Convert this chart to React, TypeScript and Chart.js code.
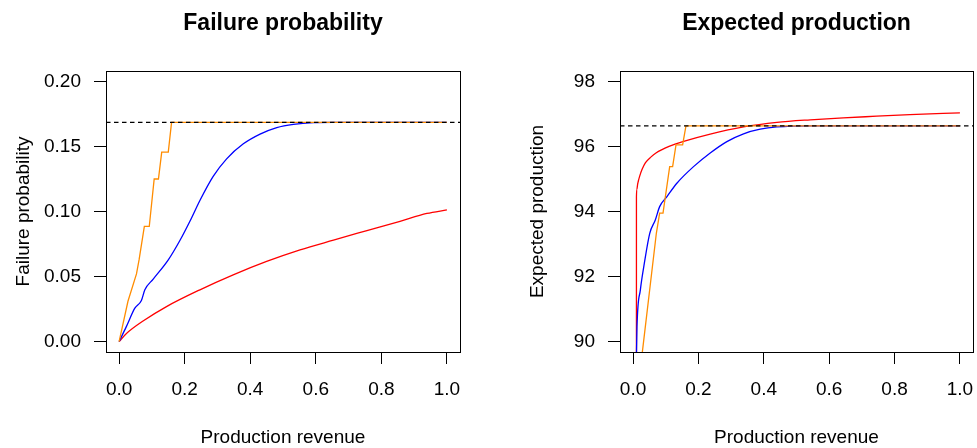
import React, { useEffect, useRef } from "react";
import { Chart, registerables } from "chart.js";

Chart.register(...registerables);

const FONT = '"Liberation Sans", Arial, Helvetica, sans-serif';

// Shared x axis
const xTicks = [0, 0.2, 0.4, 0.6, 0.8, 1.0];
const xLimits = [-0.04, 1.04];

// Panel 1: Failure probability
const failTicks = [0, 0.05, 0.1, 0.15, 0.2];
const failLimits = [-0.008, 0.208];
const failRef = 0.1685;

const failOrangeX = [0, 0.027, 0.053, 0.061, 0.077, 0.092, 0.107, 0.12, 0.13, 0.15, 0.16, 1.0];
const failOrangeY = [0, 0.031, 0.052, 0.063, 0.0885, 0.0885, 0.125, 0.125, 0.1457, 0.1457, 0.1685, 0.1685];

const failBlueX = [0, 0.022, 0.048, 0.068, 0.0785, 0.104, 0.15, 0.185, 0.216, 0.2465, 0.287, 0.328, 0.379, 0.43, 0.481, 0.532, 0.593, 0.65, 1.0];
const failBlueY = [0, 0.0115, 0.0257, 0.0316, 0.0398, 0.048, 0.0628, 0.0775, 0.0925, 0.1085, 0.127, 0.1405, 0.152, 0.1595, 0.1645, 0.167, 0.1683, 0.1685, 0.1685];

const failRedX = [0, 0.0224, 0.073, 0.1446, 0.2465, 0.348, 0.45, 0.552, 0.654, 0.756, 0.857, 0.939, 1.0];
const failRedY = [0, 0.0062, 0.0158, 0.0269, 0.0398, 0.0513, 0.0616, 0.0705, 0.078, 0.0853, 0.0925, 0.0985, 0.1012];

// Panel 2: Expected production
const prodTicks = [90, 92, 94, 96, 98];
const prodLimits = [89.68, 98.32];
const prodRef = 96.635;

const prodOrangeX = [0, 0.0712, 0.0813, 0.0916, 0.112, 0.121, 0.1313, 0.1516, 0.1618, 1.0];
const prodOrangeY = [87.26, 93.33, 93.95, 93.95, 95.38, 95.38, 96.05, 96.05, 96.635, 96.635];

const prodBlueX = [0.0093, 0.012, 0.0223, 0.0345, 0.051, 0.068, 0.0813, 0.1037, 0.134, 0.185, 0.236, 0.287, 0.338, 0.389, 0.44, 0.542, 1.0];
const prodBlueY = [89.0, 90.46, 91.59, 92.41, 93.33, 93.74, 94.15, 94.46, 94.87, 95.38, 95.8, 96.15, 96.39, 96.53, 96.6, 96.635, 96.635];

const prodRedX = [0.0102, 0.0103, 0.0115, 0.014, 0.017, 0.02, 0.027, 0.038, 0.055, 0.07, 0.11, 0.16, 0.236, 0.338, 0.44, 0.542, 0.643, 0.745, 0.847, 1.0];
const prodRedY = [80, 94.45, 94.67, 94.84, 94.97, 95.08, 95.28, 95.5, 95.68, 95.8, 96.0, 96.17, 96.38, 96.6, 96.74, 96.82, 96.88, 96.93, 96.98, 97.03];

const zip = (xs: number[], ys: number[]) => xs.map((x, i) => ({ x, y: ys[i] }));

const panelPlugin = {
  id: "panel",
  afterDraw(chart: any) {
    const o = chart.options.plugins.panel;
    const { ctx, chartArea: a } = chart;
    ctx.save();
    ctx.strokeStyle = "#000";
    ctx.lineWidth = 1;
    ctx.strokeRect(
      Math.round(a.left) + 0.5,
      Math.round(a.top) + 0.5,
      Math.round(a.right - a.left),
      Math.round(a.bottom - a.top)
    );
    ctx.fillStyle = "#000";
    ctx.textAlign = "center";
    ctx.textBaseline = "alphabetic";
    const cx = (a.left + a.right) / 2;
    ctx.font = `bold 23px ${FONT}`;
    ctx.fillText(o.title, cx, 29.5);
    ctx.font = `19px ${FONT}`;
    ctx.fillText(o.xTitle, cx, 443);
    ctx.translate(a.left - 77, (a.top + a.bottom) / 2);
    ctx.rotate(-Math.PI / 2);
    ctx.fillText(o.yTitle, 0, 0);
    ctx.restore();
  },
};

type PanelSpec = {
  title: string;
  yTitle: string;
  yTicks: number[];
  yLimits: number[];
  yFmt: (v: number) => string;
  ref: number;
  series: { x: number[]; y: number[]; color: string; smooth: boolean }[];
  yAxisWidth: number;
  padRight: number;
};

function makeConfig(p: PanelSpec): any {
  const datasets: any[] = [
    {
      data: [
        { x: xLimits[0], y: p.ref },
        { x: xLimits[1], y: p.ref },
      ],
      borderColor: "#000",
      borderWidth: 1.2,
      borderDash: [4.5, 3.5],
      order: 0,
    },
  ];
  p.series.forEach((s, i) => {
    datasets.push({
      data: zip(s.x, s.y),
      borderColor: s.color,
      borderWidth: 1.3,
      cubicInterpolationMode: s.smooth ? "monotone" : "default",
      tension: 0,
      order: i + 1,
    });
  });
  return {
    type: "line",
    data: { datasets },
    plugins: [panelPlugin],
    options: {
      animation: false,
      responsive: false,
      devicePixelRatio: 1,
      layout: { padding: { top: 71, right: p.padRight, left: 0, bottom: 0 } },
      elements: { point: { radius: 0 }, line: { fill: false } },
      datasets: { line: { clip: 0, spanGaps: true } },
      plugins: {
        legend: { display: false },
        tooltip: { enabled: false },
        title: { display: false },
        panel: { title: p.title, xTitle: "Production revenue", yTitle: p.yTitle },
      },
      scales: {
        x: {
          type: "linear",
          min: xLimits[0],
          max: xLimits[1],
          afterBuildTicks: (s: any) => {
            s.ticks = xTicks.map((v) => ({ value: v }));
          },
          afterFit: (s: any) => {
            s.height = 96;
            s.paddingLeft = 0;
            s.paddingRight = 0;
          },
          grid: { display: true, drawOnChartArea: false, drawTicks: true, tickLength: 12, color: "#000", lineWidth: 1 },
          border: { display: false },
          ticks: {
            autoSkip: false,
            maxRotation: 0,
            minRotation: 0,
            padding: 14,
            color: "#000",
            font: { family: FONT, size: 19 },
            callback: (v: number) => Number(v).toFixed(1),
          },
        },
        y: {
          type: "linear",
          min: p.yLimits[0],
          max: p.yLimits[1],
          afterBuildTicks: (s: any) => {
            s.ticks = p.yTicks.map((v) => ({ value: v }));
          },
          afterFit: (s: any) => {
            s.width = p.yAxisWidth;
            s.paddingTop = 0;
            s.paddingBottom = 0;
          },
          grid: { display: true, drawOnChartArea: false, drawTicks: true, tickLength: 12, color: "#000", lineWidth: 1 },
          border: { display: false },
          ticks: {
            autoSkip: false,
            padding: 13,
            color: "#000",
            font: { family: FONT, size: 19 },
            callback: (v: number) => p.yFmt(Number(v)),
          },
        },
      },
    },
  };
}

const leftSpec: PanelSpec = {
  title: "Failure probability",
  yTitle: "Failure probability",
  yTicks: failTicks,
  yLimits: failLimits,
  yFmt: (v) => v.toFixed(2),
  ref: failRef,
  series: [
    { x: failOrangeX, y: failOrangeY, color: "#FF8C00", smooth: false },
    { x: failBlueX, y: failBlueY, color: "#0000FF", smooth: true },
    { x: failRedX, y: failRedY, color: "#FF0000", smooth: true },
  ],
  yAxisWidth: 106,
  padRight: 28,
};

const rightSpec: PanelSpec = {
  title: "Expected production",
  yTitle: "Expected production",
  yTicks: prodTicks,
  yLimits: prodLimits,
  yFmt: (v) => String(Math.round(v)),
  ref: prodRef,
  series: [
    { x: prodOrangeX, y: prodOrangeY, color: "#FF8C00", smooth: false },
    { x: prodBlueX, y: prodBlueY, color: "#0000FF", smooth: true },
    { x: prodRedX, y: prodRedY, color: "#FF0000", smooth: true },
  ],
  yAxisWidth: 132,
  padRight: 4,
};

function Panel({ spec, left, width }: { spec: PanelSpec; left: number; width: number }) {
  const ref = useRef<HTMLCanvasElement | null>(null);
  useEffect(() => {
    if (!ref.current) return;
    const chart = new Chart(ref.current, makeConfig(spec));
    return () => chart.destroy();
  }, [spec]);
  return (
    <canvas
      ref={ref}
      width={width}
      height={448}
      style={{ position: "absolute", left, top: 0, width, height: 448 }}
    />
  );
}

export default function App() {
  return (
    <div style={{ position: "fixed", left: 0, top: 0, width: 977, height: 448, background: "#fff" }}>
      <Panel spec={leftSpec} left={0} width={488} />
      <Panel spec={rightSpec} left={488} width={489} />
    </div>
  );
}
